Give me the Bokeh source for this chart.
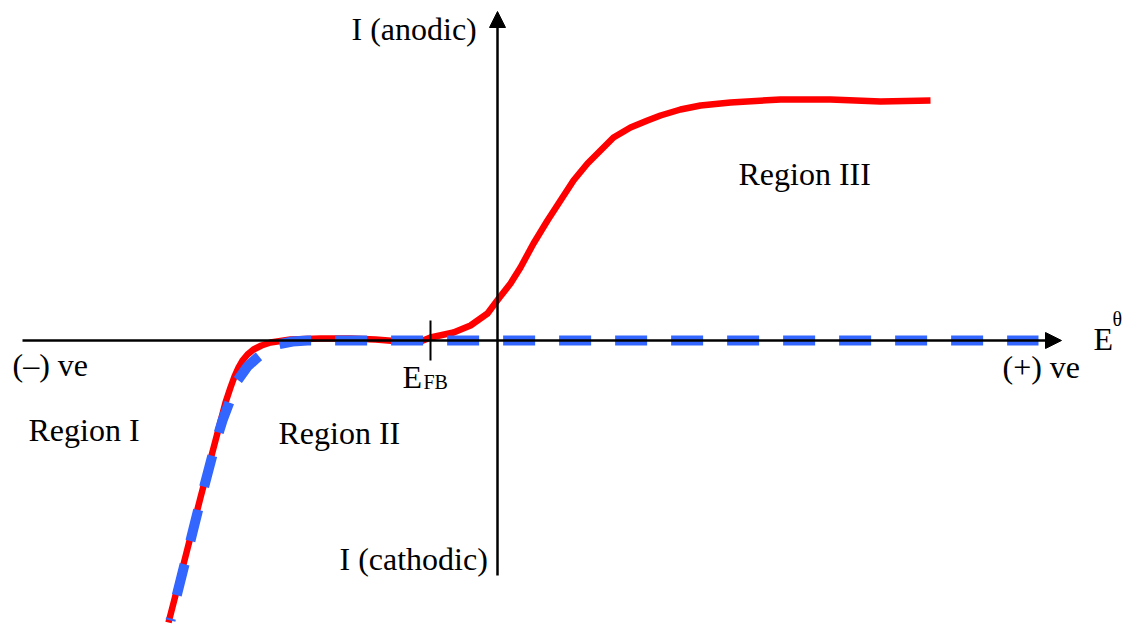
from bokeh.plotting import figure
from bokeh.models import Range1d, Arrow, NormalHead
from bokeh.core.properties import value
from bokeh.embed import file_html
from bokeh.resources import INLINE

# Schematic current-potential response of a semiconductor electrode.
# Potential (x) and current (y) are in arbitrary units; the axes cross at (0, 0).

# Measured/illuminated response (solid red)
photo_E = [-3.29, -3.12, -2.97, -2.82, -2.72, -2.67, -2.63, -2.59, -2.55, -2.50,
           -2.44, -2.36, -2.27, -2.07, -1.77, -1.47, -1.22, -0.97, -0.77, -0.67,
           -0.44, -0.27, -0.10, 0.02, 0.13, 0.23, 0.36, 0.50, 0.63, 0.76,
           0.90, 1.03, 1.16, 1.33, 1.50, 1.63, 1.83, 2.03, 2.33, 2.83,
           3.33, 3.83, 4.33]
photo_I = [-2.82, -2.16, -1.57, -1.00, -0.62, -0.47, -0.36, -0.27, -0.20, -0.14,
           -0.09, -0.05, -0.02, 0.01, 0.02, 0.02, 0.01, -0.01, -0.01, 0.03,
           0.08, 0.15, 0.27, 0.43, 0.57, 0.73, 0.97, 1.20, 1.40, 1.60,
           1.77, 1.90, 2.03, 2.13, 2.20, 2.25, 2.31, 2.35, 2.38, 2.41,
           2.41, 2.39, 2.40]

# Dark response (dashed blue)
dark_E = [-3.27, -3.12, -2.97, -2.82, -2.75, -2.60, -2.50, -2.40, -2.30, -2.20,
          -2.05, -1.90, 5.41]
dark_I = [-2.80, -2.20, -1.60, -1.03, -0.80, -0.40, -0.26, -0.17, -0.09, -0.04,
          -0.01, 0.00, 0.00]

# Flat-band potential marker
E_fb = -0.67

x_min, x_max = -4.97, 6.30
y_min, y_max = -2.85, 3.40

p = figure(width=1127, height=625, output_backend="svg", toolbar_location=None,
           x_range=Range1d(x_min, x_max), y_range=Range1d(y_min, y_max),
           min_border=0, outline_line_color=None, background_fill_color="white",
           border_fill_color="white")
p.xaxis.visible = False
p.yaxis.visible = False
p.grid.visible = False

# Potential axis with arrow
p.add_layout(Arrow(end=NormalHead(size=16, fill_color="black", line_color="black", line_width=1),
                   x_start=-4.75, y_start=0, x_end=5.64, y_end=0,
                   line_color="black", line_width=2.5))

# Curves
p.line(photo_E, photo_I, line_color="#ff0000", line_width=6.5, line_join="round")
p.line(dark_E, dark_I, line_color="#3366ff", line_width=10,
       line_dash="32 24", line_dash_offset=30)

# Current axis with arrow
p.add_layout(Arrow(end=NormalHead(size=16, fill_color="black", line_color="black", line_width=1),
                   x_start=0, y_start=-2.35, x_end=0, y_end=3.29,
                   line_color="black", line_width=2.5))

# Flat-band tick
p.segment(x0=[E_fb], y0=[0.20], x1=[E_fb], y1=[-0.20], line_color="black", line_width=2)

font = value("Liberation Serif")

# Main labels (left-aligned, alphabetic baseline)
lab_x = [-1.46, -4.85, -4.69, -2.19, 5.05, 2.41, -0.95, 5.96, -1.58]
lab_y = [3.12, -0.24, -0.89, -0.92, -0.26, 1.67, -0.36, 0.02, -2.18]
lab_t = ["I (anodic)", "(\u2013) ve", "Region I", "Region II", "(+) ve",
         "Region III", "E", "E", "I (cathodic)"]
p.text(x=lab_x, y=lab_y, text=lab_t, text_font=font, text_font_size="32px",
       text_color="black", text_align="left", text_baseline="alphabetic")

# Subscript / superscript
p.text(x=[-0.74, 6.15], y=[-0.41, 0.22], text=["FB", "\u03b8"], text_font=font,
       text_font_size="20px", text_color="black", text_align="left",
       text_baseline="alphabetic")

open("out.html", "w").write(file_html(p, INLINE))
